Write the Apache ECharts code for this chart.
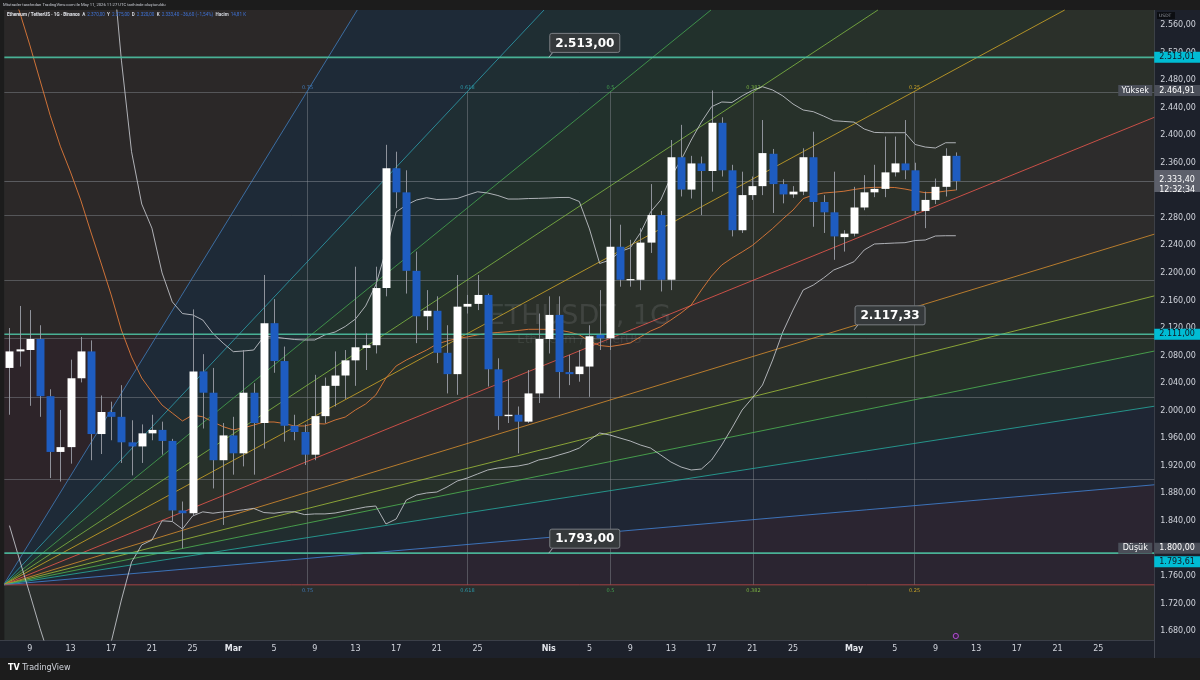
<!DOCTYPE html>
<html>
<head>
<meta charset="utf-8">
<script src="https://cdn.jsdelivr.net/npm/echarts@6/dist/echarts.min.js"></script>
<style>
html,body{margin:0;padding:0;background:#1c1c1c;}
#chart{width:1200px;height:680px;}
</style>
</head>
<body>
<div id="chart"></div>
<script>
// ================= DATA =================
const firstDay = '2026-02-07';
const dayCount = 113;
const opens = [2062,2086,2088,2104,2021,1940,1947,2047,2086,1966,
  1998,1991,1954,1948,1967,1972,1956,1855,1851,2057,
  2026,1928,1964,1938,2026,1982,2127,2072,1978,1969,
  1936,1992,2036,2051,2073,2091,2095,2178,2352,2317,
  2203,2137,2145,2084,2053,2151,2155,2168,2060,1992,
  1994,1984,2025,2104,2139,2056,2053,2064,2110,2105,
  2238,2190,2190,2244,2284,2190,2368,2321,2359,2348,
  2418,2349,2262,2313,2326,2373,2329,2314,2318,2368,
  2303,2288,2252,2257,2295,2317,2322,2346,2359,2349,
  2290,2306,2325,2370];
const closes = [2086,2089,2104,2021,1940,1947,2047,2086,1966,1998,
  1991,1954,1948,1967,1972,1956,1855,1851,2057,2026,
  1928,1964,1938,2026,1982,2127,2072,1978,1969,1936,
  1992,2036,2051,2073,2092,2095,2178,2352,2317,2203,
  2137,2145,2084,2053,2151,2155,2168,2060,1992,1994,
  1984,2025,2104,2139,2056,2053,2064,2108,2105,2238,
  2190,2191,2244,2284,2190,2368,2321,2359,2348,2418,
  2349,2262,2313,2326,2374,2329,2314,2318,2368,2303,
  2288,2253,2257,2295,2317,2322,2346,2359,2349,2290,
  2306,2325,2370,2333.4];
const lows = [1994,2064,2007,1991,1902,1897,1923,2041,1928,1937,
  1957,1924,1906,1924,1957,1936,1839,1800,1848,1974,
  1887,1834,1907,1919,1907,1945,2055,1955,1957,1921,
  1928,1982,2006,2017,2036,2059,2083,2166,2294,2170,
  2098,2117,2069,2025,2023,2141,2146,2035,1972,1982,
  1938,1982,2011,2083,2018,2037,2042,2020,2088,2088,
  2180,2180,2175,2229,2173,2175,2311,2308,2284,2318,
  2340,2253,2258,2306,2313,2287,2301,2309,2313,2267,
  2258,2219,2231,2253,2291,2310,2310,2340,2336,2284,
  2265,2300,2311,2320];
const highs = [2120,2152,2146,2124,2031,2001,2074,2107,2102,2022,
  2013,2037,1986,1980,1994,1984,1959,1868,2147,2082,
  2062,1982,1991,2088,2040,2197,2162,2093,1994,1980,
  2052,2048,2086,2088,2209,2112,2209,2386,2376,2349,
  2231,2175,2166,2124,2197,2168,2197,2170,2076,2045,
  2006,2059,2141,2166,2166,2081,2088,2124,2175,2279,
  2270,2248,2265,2329,2290,2393,2415,2370,2369,2464.91,
  2426,2357,2347,2340,2422,2380,2336,2326,2381,2405,
  2313,2347,2262,2325,2342,2357,2398,2398,2422,2360,
  2318,2337,2381,2375];
const bbUpper = [3403,3375,3328,3276,3220,3168,3103,3012,2913,2819,
  2672,2509,2376,2300,2265,2200,2158,2141,2139,2131.6,
  2112,2098,2085.6,2086.6,2088,2107.6,2107,2105,2103.3,2102.6,
  2102.6,2110,2114.2,2122.2,2133,2152,2182.4,2233,2288.4,2298.6,
  2305.9,2309.2,2306.6,2307,2308,2313.1,2317.8,2316,2312.4,2307.3,
  2307.3,2308,2308.3,2308.8,2309.5,2309.6,2303.7,2263.8,2213.7,2218.7,
  2230.8,2236.2,2258,2288.4,2305.9,2339.3,2364,2393,2419.1,2441.4,
  2448.2,2447.5,2457,2465,2470.4,2465.6,2457,2445.3,2436.6,2434.1,
  2427.8,2421,2420,2419,2409,2404,2403.6,2403.6,2403.6,2386.5,
  2382.8,2381.4,2389,2389];
const bbBasis = [2618,2579,2531,2480,2429,2384,2346.5,2306,2259.4,2214.4,
  2168,2117,2078,2047.4,2027,2008,1996.5,1985,1993.6,1991,
  1983.5,1976.7,1972,1975,1979,1983.5,1983.5,1981.3,1977.7,1977.7,
  1981.3,1980.6,1986.4,1990.7,2001,2009.6,2022.7,2047.4,2064.8,2073.5,
  2080.8,2088,2096.7,2101.1,2104.7,2107,2110,2112.3,2113.5,2114.6,
  2116.4,2118.1,2118.1,2118.1,2117,2114.2,2110,2101,2094.6,2093,
  2095.3,2098.2,2107,2115.6,2121.9,2131.6,2141.8,2153.4,2175.2,2195.5,
  2211.5,2221.6,2230.4,2239.8,2252.1,2264.5,2278.3,2291.3,2308,2313.1,
  2316,2317.2,2318.6,2321.1,2323.3,2324.3,2324.3,2324,2321.8,2318.9,
  2316.5,2316.8,2318.9,2320.4];
const bbLower = [1833,1783,1734,1684,1638,1600,1590,1600,1605,1609,
  1664,1725,1780,1805,1812,1840,1839,1828,1847,1853,
  1851,1853,1854,1856,1858,1852,1851,1853,1853,1849,
  1850,1850,1851.3,1854.2,1857.1,1860,1861.5,1835.4,1842.6,1870.2,
  1877.5,1880.4,1881.8,1889.1,1897.8,1902.2,1908,1913.8,1916.7,1918.1,
  1919.6,1922.5,1928.3,1931.2,1935.6,1939.9,1945.7,1957.3,1967.5,1964.6,
  1960.2,1955.9,1950.1,1945.7,1935.6,1925.4,1918.1,1913.8,1915.2,1928.3,
  1950.1,1974.8,2000.9,2018.3,2037.2,2073.5,2114.2,2146.1,2175.2,2182.4,
  2192.6,2204.2,2210,2216.3,2233.3,2242,2242.7,2243.4,2243.9,2247,
  2247.8,2253.6,2254,2254];
const yTicks = [1680,1720,1760,1800,1840,1880,1920,1960,2000,2040,2080,2120,2160,2200,2240,2280,2320,2360,2400,2440,2480,2520,2560];
const xTickDays = ['2026-02-09','2026-02-13','2026-02-17','2026-02-21','2026-02-25','2026-03-01','2026-03-05','2026-03-09','2026-03-13','2026-03-17','2026-03-21','2026-03-25','2026-04-01','2026-04-05','2026-04-09','2026-04-13','2026-04-17','2026-04-21','2026-04-25','2026-05-01','2026-05-05','2026-05-09','2026-05-13','2026-05-17','2026-05-21','2026-05-25'];
const xTickLabels = ['9','13','17','21','25','Mar','5','9','13','17','21','25','Nis','5','9','13','17','21','25','May','5','9','13','17','21','25'];
const levelLinePrices = [2513, 2111, 1793];
const calloutDays = [53, 53, 83];
const calloutPrices = [2513, 1793, 2117.33];
const fanAnchor = [[-0.58, 1747], [118.67, 2463]];
const fanTimeLevels = [0.75, 0.618, 0.5, 0.382, 0.25];
const fanPriceLevels = [0.25, 0.382, 0.5, 0.618, 0.786];
const lastPrice = 2333.40;
const lastTime = '12:32:34';
const highPrice = 2464.91;
const lowPrice = 1800.00;
const tagPrices = [2513.01, 2464.91, 2333.40, 2111.00, 1800.00, 1793.61];
const priceMin = 1666.9, priceMax = 2581.8;

// ================= STYLE =================
const fanFills = ['#2d2429','#1e2a37','#1f2e33','#22312c','#27312a','#2b302a','#2d2c2c','#2a2f2b','#263029','#212d2f','#1f2634','#2b2531'];
const fanFillUpperLeft = '#2b2828';
const rayColors = ['#3f78b5','#2b98a8','#43a04f','#7cb342','#c9a227','#e5564c','#d08a2e','#9ab73a','#4caf50','#26a69a','#3f7fd0','#b84848'];
const tagStyle = [
  {bg:'#00bcd4', fg:'#131722', dy:0, h:11},
  {bg:'#4a4e58', fg:'#ffffff', dy:0, h:11, side:'Yüksek'},
  {bg:'#5d606b', fg:'#ffffff', dy:5, h:22},
  {bg:'#00bcd4', fg:'#131722', dy:0, h:11},
  {bg:'#4a4e58', fg:'#ffffff', dy:0, h:11, side:'Düşük'},
  {bg:'#00bcd4', fg:'#131722', dy:9, h:11}
];
const FONT = 'DejaVu Sans';

// ================= HELPERS =================
function fmt(v) {
  const parts = v.toFixed(2).split('.');
  return parts[0].replace(/\B(?=(\d{3})+(?!\d))/g, '.') + ',' + parts[1];
}
function fmtLevel(t) { return String(t); }
const categories = [];
(function () {
  const d0 = new Date(firstDay + 'T00:00:00Z');
  for (let k = 0; k < dayCount; k++) {
    const d = new Date(d0.getTime() + k * 86400000);
    categories.push(d.toISOString().slice(0, 10));
  }
})();
const tickSet = new Set(xTickDays);

function clipPoly(pts, x1, y1, x2, y2) {
  const planes = [
    [p => p[0] >= x1, (a, b) => { const t = (x1 - a[0]) / (b[0] - a[0]); return [x1, a[1] + t * (b[1] - a[1])]; }],
    [p => p[0] <= x2, (a, b) => { const t = (x2 - a[0]) / (b[0] - a[0]); return [x2, a[1] + t * (b[1] - a[1])]; }],
    [p => p[1] >= y1, (a, b) => { const t = (y1 - a[1]) / (b[1] - a[1]); return [a[0] + t * (b[0] - a[0]), y1]; }],
    [p => p[1] <= y2, (a, b) => { const t = (y2 - a[1]) / (b[1] - a[1]); return [a[0] + t * (b[0] - a[0]), y2]; }]
  ];
  let out = pts;
  for (const [inside, inter] of planes) {
    const inp = out; out = [];
    for (let k = 0; k < inp.length; k++) {
      const cur = inp[k], prev = inp[(k + inp.length - 1) % inp.length];
      const ci = inside(cur), pi = inside(prev);
      if (ci) { if (!pi) out.push(inter(prev, cur)); out.push(cur); }
      else if (pi) out.push(inter(prev, cur));
    }
    if (!out.length) break;
  }
  return out;
}
function clipSeg(a, b, x1, y1, x2, y2) {
  let t0 = 0, t1 = 1;
  const dx = b[0] - a[0], dy = b[1] - a[1];
  const p = [-dx, dx, -dy, dy], q = [a[0] - x1, x2 - a[0], a[1] - y1, y2 - a[1]];
  for (let k = 0; k < 4; k++) {
    if (p[k] === 0) { if (q[k] < 0) return null; }
    else {
      const t = q[k] / p[k];
      if (p[k] < 0) { if (t > t1) return null; if (t > t0) t0 = t; }
      else { if (t < t0) return null; if (t < t1) t1 = t; }
    }
  }
  return [[a[0] + t0 * dx, a[1] + t0 * dy], [a[0] + t1 * dx, a[1] + t1 * dy]];
}
function lineEl(a, b, color, w, opacity, dash) {
  return {type: 'line', silent: true, shape: {x1: a[0], y1: a[1], x2: b[0], y2: b[1]},
    style: {stroke: color, lineWidth: w, opacity: opacity == null ? 1 : opacity, lineDash: dash || null}};
}
function textEl(x, y, text, fill, font, align, valign) {
  return {type: 'text', silent: true, style: {x: x, y: y, text: text, fill: fill, font: font,
    textAlign: align || 'left', align: align || 'left', textVerticalAlign: valign || 'middle', verticalAlign: valign || 'middle'}};
}

// ================= RENDERERS =================
function renderFan(params, api) {
  const cs = params.coordSys;
  const X1 = cs.x, Y1 = cs.y, X2 = cs.x + cs.width, Y2 = cs.y + cs.height;
  const i0 = fanAnchor[0][0], p0 = fanAnchor[0][1], i1 = fanAnchor[1][0], p1 = fanAnchor[1][1];
  const O = api.coord([i0, p0]);
  const E = api.coord([i1, p1]);
  const targets = [api.coord([i0, p1])];
  fanTimeLevels.forEach(t => targets.push(api.coord([i0 + (1 - t) * (i1 - i0), p1])));
  targets.push(E);
  fanPriceLevels.forEach(t => targets.push(api.coord([i1, p1 - t * (p1 - p0)])));
  targets.push(api.coord([i1, p0]));
  const far = T => [O[0] + (T[0] - O[0]) * 40, O[1] + (T[1] - O[1]) * 40];
  const yMid = api.coord([i0, p1 - 0.5 * (p1 - p0)])[1];
  const ch = [];
  for (let k = 0; k < targets.length - 1; k++) {
    const tri = [O, far(targets[k]), far(targets[k + 1])];
    if (k === 0) {
      const a = clipPoly(tri, X1, Y1, X2, yMid);
      if (a.length > 2) ch.push({type: 'polygon', silent: true, shape: {points: a}, style: {fill: fanFillUpperLeft}});
      const b = clipPoly(tri, X1, yMid, X2, Y2);
      if (b.length > 2) ch.push({type: 'polygon', silent: true, shape: {points: b}, style: {fill: fanFills[0]}});
      continue;
    }
    const poly = clipPoly(tri, X1, Y1, X2, Y2);
    if (poly.length > 2) ch.push({type: 'polygon', silent: true, shape: {points: poly}, style: {fill: fanFills[k]}});
  }
  // grid of the fan: horizontal levels
  const hl = [p1].concat(fanPriceLevels.map(t => p1 - t * (p1 - p0)));
  hl.forEach(p => {
    const y = Math.round(api.coord([i0, p])[1]) + 0.5;
    const s = clipSeg([O[0], y], [E[0], y], X1, Y1, X2, Y2);
    if (s) ch.push(lineEl(s[0], s[1], '#8a8d94', 1, 0.45));
  });
  // vertical levels
  fanTimeLevels.forEach((t, k) => {
    const x = Math.round(api.coord([i0 + (1 - t) * (i1 - i0), p1])[0]) + 0.5;
    ch.push(lineEl([x, E[1]], [x, O[1]], '#8a8d94', 1, 0.45));
    ch.push(textEl(x, E[1] - 4, fmtLevel(t), rayColors[k], '5px ' + FONT, 'center', 'middle'));
    ch.push(textEl(x, O[1] + 6, fmtLevel(t), rayColors[k], '5px ' + FONT, 'center', 'middle'));
  });
  // rays
  for (let k = 1; k < targets.length; k++) {
    const s = clipSeg(O, far(targets[k]), X1, Y1, X2, Y2);
    if (s) ch.push(lineEl(s[0], s[1], rayColors[k - 1], 1, 0.85));
  }
  // watermark
  const cx = X1 + cs.width / 2, cy = Y1 + cs.height / 2;
  ch.push(textEl(cx, cy - 8, 'ETHUSDT, 1G', 'rgba(210,212,220,0.13)', '27px ' + FONT, 'center', 'middle'));
  ch.push(textEl(cx, cy + 15, 'Ethereum / TetherUS', 'rgba(210,212,220,0.10)', '12px ' + FONT, 'center', 'middle'));
  return {type: 'group', children: ch};
}

function renderLevelLine(params, api) {
  const cs = params.coordSys;
  const y = api.coord([0, api.value(1)])[1];
  return lineEl([cs.x, y], [cs.x + cs.width, y], '#4bb89b', 1.6, 0.95);
}
function renderLastLine(params, api) {
  const cs = params.coordSys;
  const y = Math.round(api.coord([0, api.value(1)])[1]) + 0.5;
  return lineEl([cs.x, y], [cs.x + cs.width, y], '#9598a1', 1, 0.45);
}

function renderCandle(params, api) {
  const i = api.value(0), o = api.value(1), c = api.value(2), l = api.value(3), h = api.value(4);
  const pO = api.coord([i, o]), pC = api.coord([i, c]), pL = api.coord([i, l]), pH = api.coord([i, h]);
  const bw = api.size([1, 0])[0] * 0.78;
  const x = Math.round(pO[0]) + 0.5;
  const top = Math.min(pO[1], pC[1]), bot = Math.max(pO[1], pC[1]);
  const up = c >= o;
  return {type: 'group', children: [
    lineEl([x, pH[1]], [x, pL[1]], '#9a9da6', 1, 0.9),
    {type: 'rect', silent: true, shape: {x: x - bw / 2, y: top, width: bw, height: Math.max(1.2, bot - top)},
      style: {fill: up ? '#ffffff' : '#1e5cc0'}}
  ]};
}

function renderCallout(params, api) {
  const p = api.coord([api.value(0), api.value(1)]);
  const text = fmt(api.value(1));
  const w = 70, h = 19;
  const bx = p[0] + 1, by = p[1] - 5 - h;
  return {type: 'group', children: [
    lineEl([p[0], p[1]], [p[0] + 4, p[1] - 5], '#b2b5be', 1, 0.9),
    {type: 'rect', silent: true, shape: {x: bx, y: by, width: w, height: h, r: 2},
      style: {fill: '#35393b', stroke: '#7b7f84', lineWidth: 1}},
    textEl(bx + w / 2, by + h / 2 + 0.5, text, '#ffffff', 'bold 12px ' + FONT, 'center', 'middle')
  ]};
}

function renderYTick(params, api) {
  const cs = params.coordSys;
  const y = api.coord([0, api.value(1)])[1];
  return textEl(cs.x + cs.width + 6, y, fmt(api.value(1)), '#d1d4dc', '8px ' + FONT, 'left', 'middle');
}

function renderTag(params, api) {
  const cs = params.coordSys;
  const k = params.dataIndex;
  const st = tagStyle[k];
  const price = api.value(1);
  const y = api.coord([0, price])[1] + st.dy;
  const x0 = cs.x + cs.width;
  const ch = [];
  ch.push({type: 'rect', silent: true, shape: {x: x0, y: y - st.h / 2 - (k === 2 ? 5 : 0), width: 1200 - x0, height: st.h}, style: {fill: st.bg}});
  if (k === 2) {
    ch.push(textEl(x0 + 5, y - 6, fmt(price), st.fg, '8px ' + FONT, 'left', 'middle'));
    ch.push(textEl(x0 + 5, y + 4, lastTime, st.fg, '8px ' + FONT, 'left', 'middle'));
  } else {
    ch.push(textEl(x0 + 5, y, fmt(price), st.fg, '8px ' + FONT, 'left', 'middle'));
  }
  if (st.side) {
    ch.push({type: 'rect', silent: true, shape: {x: x0 - 36, y: y - st.h / 2, width: 34, height: st.h}, style: {fill: st.bg}});
    ch.push(textEl(x0 - 19, y, st.side, '#ffffff', '8px ' + FONT, 'center', 'middle'));
  }
  return {type: 'group', children: ch};
}

function renderEventMark(params, api) {
  const cs = params.coordSys;
  const p = api.coord([api.value(0), priceMin]);
  return {type: 'circle', silent: true, shape: {cx: p[0], cy: cs.y + cs.height - 4, r: 2.6},
    style: {fill: '#3a1f44', stroke: '#b04fd0', lineWidth: 1}};
}

// ================= OPTION =================
const candleData = opens.map((o, i) => [i, o, closes[i], lows[i], highs[i]]);
const lastIndex = opens.length - 1;

const option = {
  animation: false,
  backgroundColor: '#1c1c1c',
  grid: {left: 4.36, right: 45.75, top: 10, bottom: 40, show: true, backgroundColor: '#2a2e2c', borderWidth: 0},
  xAxis: [
    {type: 'category', data: categories, boundaryGap: true,
      axisLine: {show: false}, axisTick: {show: false}, splitLine: {show: false},
      axisLabel: {
        interval: (idx, val) => tickSet.has(val),
        formatter: (val) => {
          const s = xTickLabels[xTickDays.indexOf(val)];
          return /^\d+$/.test(s) ? s : '{m|' + s + '}';
        },
        color: '#d1d4dc', fontFamily: FONT, fontSize: 8, margin: 5,
        rich: {m: {fontFamily: FONT, fontSize: 8, fontWeight: 'bold', color: '#e4e6ec'}}
      }},
    {type: 'value', min: -0.5, max: dayCount - 0.5, show: false}
  ],
  yAxis: [{type: 'value', min: priceMin, max: priceMax, show: false, splitLine: {show: false}}],
  graphic: [
    {type: 'rect', z: 0, silent: true, shape: {x: 1154, y: 10, width: 46, height: 648}, style: {fill: '#1d212b'}},
    {type: 'rect', z: 0, silent: true, shape: {x: 0, y: 640, width: 1200, height: 18}, style: {fill: '#1d212b'}},
    {type: 'rect', z: 0, silent: true, shape: {x: 0, y: 640, width: 1154, height: 1}, style: {fill: '#3b3f48'}},
    {type: 'rect', z: 0, silent: true, shape: {x: 1154, y: 10, width: 1, height: 648}, style: {fill: '#434751'}},
    {type: 'rect', z: 50, silent: true, shape: {x: 1157, y: 12, width: 18, height: 7}, style: {fill: '#0c0e12'}},
    {type: 'text', z: 51, silent: true, style: {x: 1159, y: 15.5, text: 'USDT', fill: '#9598a1', font: '4.5px ' + FONT, verticalAlign: 'middle', textVerticalAlign: 'middle'}},
    {type: 'text', z: 100, silent: true, style: {x: 3, y: 5, text: 'Mtutrader tarafından TradingView.com ile May 11, 2026 11:27 UTC tarihinde oluşturuldu', fill: '#c9ccd4', font: '4.2px Roboto', verticalAlign: 'middle', textVerticalAlign: 'middle'}},
    {type: 'text', z: 100, silent: true, style: {x: 7, y: 15, fill: '#d1d4dc', font: 'bold 4.6px Roboto', verticalAlign: 'middle', textVerticalAlign: 'middle',
      text: '{t|Ethereum / TetherUS · 1G · Binance}  {l|A}{v|2.370,00}  {l|Y}{v|2.375,00}  {l|D}{v|2.320,00}  {l|K}{v|2.333,40 −36,60 (−1,54%)}  {l|Hacim}{v|14,81 K}',
      rich: {t: {fill: '#e4e6ec', font: 'bold 4.6px Roboto'}, l: {fill: '#d1d4dc', font: 'bold 4.6px Roboto', padding: [0, 2, 0, 0]}, v: {fill: '#3f73d8', font: '4.6px Roboto'}}}},
    {type: 'text', z: 100, silent: true, style: {x: 8, y: 668, text: '{b|TV} TradingView', fill: '#d1d4dc', font: '8px ' + FONT, verticalAlign: 'middle', textVerticalAlign: 'middle',
      rich: {b: {fill: '#ffffff', font: 'bold 8px ' + FONT}}}}
  ],
  series: [
    {type: 'custom', name: 'fan', xAxisIndex: 1, yAxisIndex: 0, z: 1, silent: true,
      renderItem: renderFan, data: [[fanAnchor[0][0], fanAnchor[0][1]]]},
    {type: 'custom', name: 'last', xAxisIndex: 1, z: 2, silent: true, renderItem: renderLastLine, data: [[0, lastPrice]]},
    {type: 'line', name: 'bbUpper', xAxisIndex: 0, data: bbUpper, showSymbol: false, symbol: 'none', z: 3, silent: true,
      lineStyle: {color: '#c7c9cf', width: 1, opacity: 0.85}},
    {type: 'line', name: 'bbLower', xAxisIndex: 0, data: bbLower, showSymbol: false, symbol: 'none', z: 3, silent: true,
      lineStyle: {color: '#c7c9cf', width: 1, opacity: 0.85}},
    {type: 'line', name: 'bbBasis', xAxisIndex: 0, data: bbBasis, showSymbol: false, symbol: 'none', z: 3, silent: true,
      lineStyle: {color: '#e07a3a', width: 1, opacity: 0.9}},
    {type: 'custom', name: 'levels', xAxisIndex: 1, z: 4, silent: true, renderItem: renderLevelLine,
      data: levelLinePrices.map(p => [0, p])},
    {type: 'custom', name: 'candles', xAxisIndex: 0, z: 5, silent: true, renderItem: renderCandle,
      encode: {x: 0, y: [1, 2, 3, 4]}, data: candleData},
    {type: 'custom', name: 'callouts', xAxisIndex: 1, z: 6, silent: true, renderItem: renderCallout,
      data: calloutDays.map((d, k) => [d, calloutPrices[k]])},
    {type: 'custom', name: 'event', xAxisIndex: 1, z: 6, silent: true, renderItem: renderEventMark, data: [[lastIndex, priceMin]]},
    {type: 'custom', name: 'yticks', xAxisIndex: 1, z: 7, silent: true, renderItem: renderYTick,
      data: yTicks.map(v => [0, v])},
    {type: 'custom', name: 'tags', xAxisIndex: 1, z: 8, silent: true, renderItem: renderTag,
      data: tagPrices.map(v => [0, v])}
  ]
};
const chart = echarts.init(document.getElementById('chart'));
chart.setOption(option);
</script>
</body>
</html>
